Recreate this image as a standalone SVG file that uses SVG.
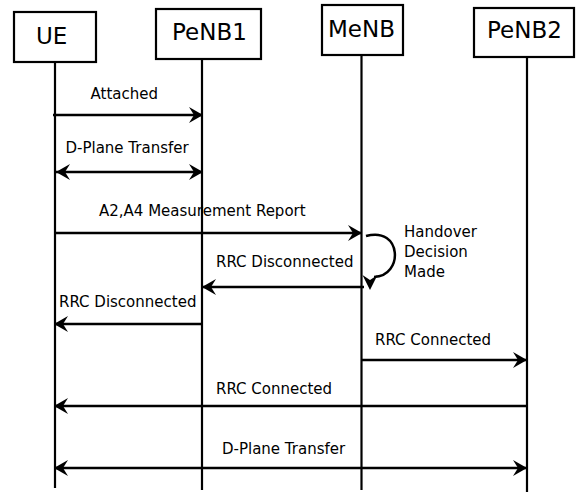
<svg xmlns="http://www.w3.org/2000/svg" width="576" height="492" viewBox="0 0 576 492">
<style>
.box{fill:#fff;stroke:#000;stroke-width:2.2}
.life{stroke:#000;stroke-width:2.2;fill:none}
.hdr{font-family:"DejaVu Sans",sans-serif;font-size:23px;fill:#000}
.lbl{font-family:"DejaVu Sans",sans-serif;font-size:15px;fill:#000}
.msg{stroke:#000;stroke-width:2.5;fill:none}
.end{marker-end:url(#ah)}
.both{marker-start:url(#ah);marker-end:url(#ah)}
</style>
<defs>
<marker id="ah" viewBox="-15 -9 16 18" markerWidth="16" markerHeight="18" refX="0" refY="0" orient="auto-start-reverse" markerUnits="userSpaceOnUse">
<path d="M0,0 L-14,-8 L-9,0 L-14,8 Z" fill="#000"/>
</marker>
</defs>
<rect width="576" height="492" fill="#fff"/>
<g id="UE">
<line class="life" x1="55" y1="62" x2="55" y2="488"/>
<rect class="box" x="14" y="12" width="82" height="50"/>
<text class="hdr" x="36" y="44">UE</text>
</g>
<g id="PeNB1">
<line class="life" x1="202" y1="59" x2="202" y2="490"/>
<rect class="box" x="156" y="9" width="105" height="50"/>
<text class="hdr" x="172" y="40">PeNB1</text>
</g>
<g id="MeNB">
<line class="life" x1="361.5" y1="55" x2="361.5" y2="490"/>
<rect class="box" x="322" y="5" width="81" height="50"/>
<text class="hdr" x="328" y="37">MeNB</text>
</g>
<g id="PeNB2">
<line class="life" x1="527" y1="57" x2="527" y2="492"/>
<rect class="box" x="474" y="8" width="100" height="49"/>
<text class="hdr" x="487" y="38">PeNB2</text>
</g>
<g id="connectors">
<line class="msg end" x1="53" y1="115" x2="203" y2="115"/>
<text class="lbl" x="90.5" y="99">Attached</text>
<line class="msg both" x1="56" y1="172" x2="203" y2="172"/>
<text class="lbl" x="65.5" y="153">D-Plane Transfer</text>
<line class="msg end" x1="55" y1="233" x2="362" y2="233"/>
<text class="lbl" x="99" y="216">A2,A4 Measurement Report</text>
<path class="msg" d="M366,236 C402,226 404,276 374,277"/>
<path d="M370,290 L362.5,275 L370,280 L377.5,275 Z" fill="#000"/>
<text class="lbl" x="404" y="237">Handover</text>
<text class="lbl" x="404" y="257">Decision</text>
<text class="lbl" x="404" y="277">Made</text>
<line class="msg end" x1="364" y1="287" x2="202" y2="287"/>
<text class="lbl" x="216" y="267">RRC Disconnected</text>
<line class="msg end" x1="203" y1="324" x2="54" y2="324"/>
<text class="lbl" x="59" y="307">RRC Disconnected</text>
<line class="msg end" x1="361" y1="360" x2="527" y2="360"/>
<text class="lbl" x="375" y="345">RRC Connected</text>
<line class="msg end" x1="527" y1="406" x2="54" y2="406"/>
<text class="lbl" x="216" y="394">RRC Connected</text>
<line class="msg both" x1="54" y1="468" x2="527" y2="468"/>
<text class="lbl" x="222" y="454">D-Plane Transfer</text>
</g>
</svg>
